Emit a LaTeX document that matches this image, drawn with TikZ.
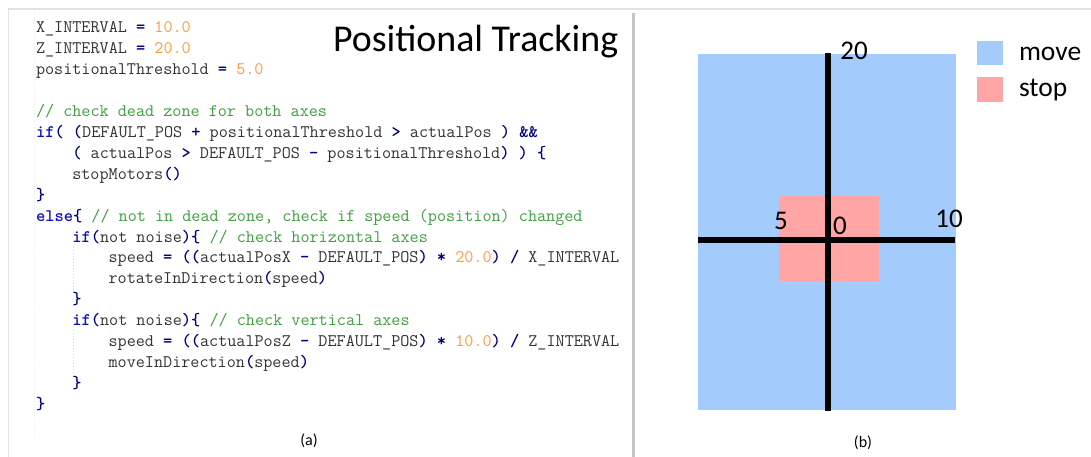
\documentclass[tikz,border=0pt]{standalone}
\usepackage{fontspec}
\setmainfont{Carlito}
\definecolor{codegray}{HTML}{333333}
\definecolor{opnavy}{HTML}{000080}
\definecolor{kwblue}{HTML}{1010C0}
\definecolor{numorange}{HTML}{FF9A3C}
\definecolor{cmgreen}{HTML}{3FA03F}
\definecolor{moveblue}{HTML}{A3CBFB}
\definecolor{stoppink}{HTML}{FFA5A5}
\definecolor{framegray}{HTML}{E2E2E2}
\definecolor{sepgray}{HTML}{C6C6C6}
\definecolor{guidegray}{HTML}{D6D6D6}
\newcommand{\cop}[1]{{\bfseries\color{opnavy}#1}}
\newcommand{\ckw}[1]{{\bfseries\color{kwblue}#1}}
\newcommand{\cnumb}[1]{{\color{numorange}#1}}
\newcommand{\ccm}[1]{{\color{cmgreen}#1}}
\begin{document}
\begin{tikzpicture}[x=1pt,y=-1pt,
  every node/.style={inner sep=0pt,outer sep=0pt},
  codeline/.style={anchor=base west,font=\ttfamily\fontsize{17.66}{20}\selectfont,text=codegray},
  axislabel/.style={font=\fontsize{27}{30}\selectfont,text=black},
  legendtext/.style={anchor=base west,font=\fontsize{27.5}{30}\selectfont,text=black},
  caption/.style={font=\fontsize{16}{18}\selectfont,text=black},
  axisline/.style={line width=6pt,black},
  guide/.style={guidegray,line width=1pt,dotted}]
\useasboundingbox (0,0) rectangle (1091,457);
\fill[white] (0,0) rectangle (1091,457);
% frame
\draw[framegray,line width=1.5pt] (8,9) -- (1091,9);
\draw[framegray,line width=1.5pt] (8.5,9) -- (8.5,457);
\draw[sepgray,line width=3pt] (633.5,13) -- (633.5,457);
\draw[black!8,line width=0.8pt,dotted] (34,12) -- (34,435);
% indent guides
\draw[guide] (73,247) -- (73,292);
\draw[guide] (73,330) -- (73,373);
% code
\node[codeline] (l1) at (36,33) {X\_INTERVAL \cop{=} \cnumb{10.0}};
\node[codeline] (l2) at (36,53.9) {Z\_INTERVAL \cop{=} \cnumb{20.0}};
\node[codeline] (l3) at (36,74.8) {positionalThreshold \cop{=} \cnumb{5.0}};
\node[codeline] (l5) at (36,116.6) {\ccm{// check dead zone for both axes}};
\node[codeline] (l6) at (36,137.5) {\ckw{if}\cop{(} \cop{(}DEFAULT\_POS \cop{+} positionalThreshold \cop{>} actualPos \cop{)} \cop{\&\&}};
\node[codeline] (l7) at (72.3,158.4) {\cop{(} actualPos \cop{>} DEFAULT\_POS \cop{-} positionalThreshold\cop{)} \cop{)} \cop{\{}};
\node[codeline] (l8) at (72.3,179.3) {stopMotors\cop{()}};
\node[codeline] (l9) at (36,200.2) {\cop{\}}};
\node[codeline] (l10) at (36,221.1) {\ckw{else}\cop{\{} \ccm{// not in dead zone, check if speed (position) changed}};
\node[codeline] (l11) at (72.3,242) {\ckw{if}\cop{(}not noise\cop{)\{} \ccm{// check horizontal axes}};
\node[codeline] (l12) at (108.6,262.9) {speed \cop{=} \cop{((}actualPosX \cop{-} DEFAULT\_POS\cop{)} \cop{*} \cnumb{20.0}\cop{)} \cop{/} X\_INTERVAL};
\node[codeline] (l13) at (108.6,283.8) {rotateInDirection\cop{(}speed\cop{)}};
\node[codeline] (l14) at (72.3,304.7) {\cop{\}}};
\node[codeline] (l15) at (72.3,325.6) {\ckw{if}\cop{(}not noise\cop{)\{} \ccm{// check vertical axes}};
\node[codeline] (l16) at (108.6,346.5) {speed \cop{=} \cop{((}actualPosZ \cop{-} DEFAULT\_POS\cop{)} \cop{*} \cnumb{10.0}\cop{)} \cop{/} Z\_INTERVAL};
\node[codeline] (l17) at (108.6,367.4) {moveInDirection\cop{(}speed\cop{)}};
\node[codeline] (l18) at (72.3,388.3) {\cop{\}}};
\node[codeline] (l19) at (36,409.2) {\cop{\}}};
% title
\node[anchor=base west,font=\fontsize{37.9}{40}\selectfont] (title) at (333,52) {Positional Tracking};
% right panel
\fill[moveblue] (698,54) rectangle (956,410);
\fill[stoppink] (779,196) rectangle (879,281);
\draw[axisline] (698,240) -- (955,240);
\draw[axisline] (827.7,53) -- (827.7,411);
\node[axislabel] (l20) at (854,51) {20};
\node[axislabel] (l5b) at (781,220.5) {5};
\node[axislabel] (l0) at (840,225.5) {0};
\node[axislabel] (l10b) at (949,218.5) {10};
% legend
\fill[moveblue] (977,41) rectangle (1003,65);
\fill[stoppink] (977,77) rectangle (1003,102);
\node[legendtext] (move) at (1019,61) {move};
\node[legendtext] (stop) at (1019,97) {stop};
% captions
\node[caption] (capa) at (309,441) {(a)};
\node[caption] (capb) at (863,443) {(b)};
\end{tikzpicture}
\end{document}
